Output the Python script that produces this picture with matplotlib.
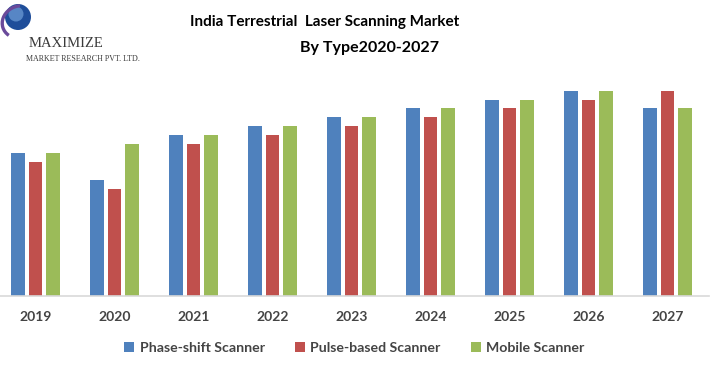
import matplotlib
matplotlib.use("Agg")
import matplotlib.pyplot as plt
import numpy as np
from matplotlib.patches import Patch, Circle, Arc

years = ['2019', '2020', '2021', '2022', '2023', '2024', '2025', '2026', '2027']
phase_shift = [16, 13, 18, 19, 20, 21, 22, 23, 21]
pulse_based = [15, 12, 17, 18, 19, 20, 21, 22, 23]
mobile = [16, 17, 18, 19, 20, 21, 22, 23, 21]
series_names = ['Phase-shift Scanner', 'Pulse-based Scanner', 'Mobile Scanner']
colors = ['#4F81BD', '#C0504D', '#9BBB59']

W, H = 714, 369
fig = plt.figure(figsize=(W / 100, H / 100), dpi=100)
fig.patch.set_facecolor('white')

FONT = ['Lato', 'DejaVu Sans']
TXT = '#444444'


def fx(px):
    return px / W


def fy(py):
    return 1 - py / H


ax = fig.add_axes([0, fy(296), fx(709), fy(80) - fy(296)])
x = np.arange(len(years))
bw = 0.177
off = 0.222
for i, (vals, c) in enumerate(zip([phase_shift, pulse_based, mobile], colors)):
    ax.bar(x + (i - 1) * off, vals, width=bw, color=c, linewidth=0)

ax.set_xlim(-35.5 / 79, (709 - 35.5) / 79)
ax.set_ylim(0, 216 / 8.93)
for s in ['top', 'left', 'right']:
    ax.spines[s].set_visible(False)
ax.spines['bottom'].set_color('#d9d9d9')
ax.spines['bottom'].set_linewidth(1.2)
ax.set_yticks([])
ax.set_xticks(x)
ax.set_xticklabels(years, fontsize=10, fontweight='bold', color=TXT, family=FONT)
ax.tick_params(axis='x', length=0, pad=10.5)

handles = [Patch(facecolor=c, edgecolor='none') for c in colors]
leg = fig.legend(handles, series_names, loc='center', bbox_to_anchor=(fx(354.5), fy(348)),
                 ncol=3, frameon=False, handlelength=0.7, handleheight=0.7,
                 handletextpad=0.4, columnspacing=2.1,
                 prop={'family': FONT, 'weight': 'bold', 'size': 10.2})
for t in leg.get_texts():
    t.set_color(TXT)

fig.text(fx(325), fy(22), 'India Terrestrial  Laser Scanning Market', ha='center', va='center',
         fontsize=11, fontweight='bold', color='black', family=FONT)
fig.text(fx(369), fy(48), 'By Type2020-2027', ha='center', va='center',
         fontsize=11.5, fontweight='bold', color='black', family=FONT)

# logo
lax = fig.add_axes([0, fy(50), fx(50), fy(0) - fy(50)])
lax.set_xlim(0, 50)
lax.set_ylim(50, 0)
lax.axis('off')
lax.add_patch(Circle((18, 17), 13, facecolor='#1f4e9a', edgecolor='none'))
lax.add_patch(Circle((16, 14), 7.5, facecolor='#6f9fd8', edgecolor='none', alpha=0.7))
lax.add_patch(Arc((20, 22), 36, 32, angle=-20, theta1=150, theta2=290, color='#6a4a9a', lw=2.4))
fig.text(fx(29), fy(47), 'MAXIMIZE', ha='left', va='baseline', fontsize=10.5,
         family=['Liberation Serif', 'DejaVu Serif'], color='#3a3a3a')
fig.text(fx(26), fy(61), 'MARKET RESEARCH PVT. LTD.', ha='left', va='baseline', fontsize=5.8,
         family=['Liberation Serif', 'DejaVu Serif'], color='#3a3a3a')

fig.savefig('out.png', dpi=100, facecolor='white')
